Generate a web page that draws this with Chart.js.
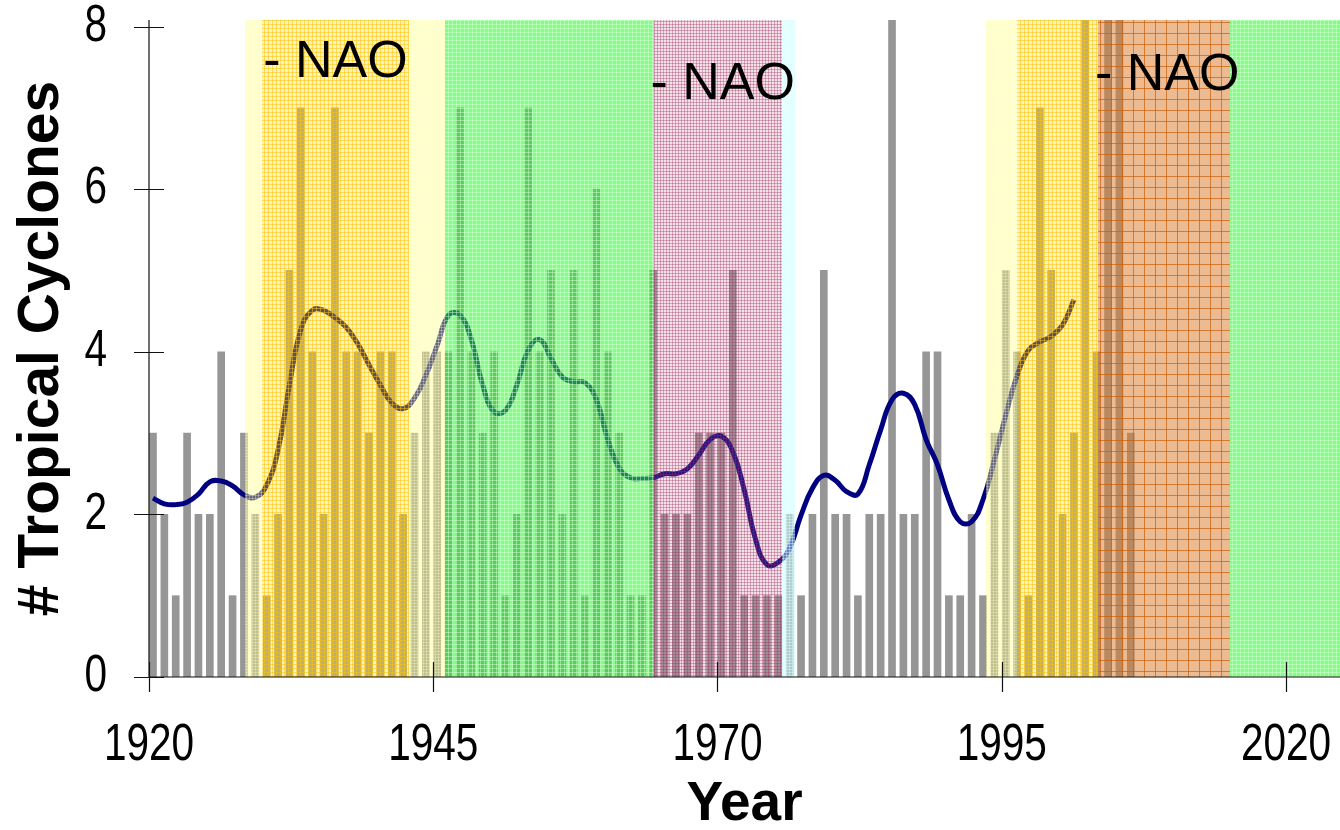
<!DOCTYPE html>
<html>
<head>
<meta charset="utf-8">
<script src="https://cdn.jsdelivr.net/npm/chart.js@4.4.0/dist/chart.umd.min.js"></script>
<style>
  html, body { margin: 0; padding: 0; background: #fff; }
  #wrap { width: 1340px; height: 830px; }
</style>
</head>
<body>
<div id="wrap"><canvas id="tcCanvas" width="1340" height="830"></canvas></div>
<script>
// yearly counts of tropical cyclones
const years = [
  1920, 1921, 1922, 1923, 1924, 1925, 1926, 1927, 1928, 1929,
  1930, 1931, 1932, 1933, 1934, 1935, 1936, 1937, 1938, 1939,
  1940, 1941, 1942, 1943, 1944, 1945, 1946, 1947, 1948, 1949,
  1950, 1951, 1952, 1953, 1954, 1955, 1956, 1957, 1958, 1959,
  1960, 1961, 1962, 1963, 1964, 1965, 1966, 1967, 1968, 1969,
  1970, 1971, 1972, 1973, 1974, 1975, 1976, 1977, 1978, 1979,
  1980, 1981, 1982, 1983, 1984, 1985, 1986, 1987, 1988, 1989,
  1990, 1991, 1992, 1993, 1994, 1995, 1996, 1997, 1998, 1999,
  2000, 2001, 2002, 2003, 2004, 2005, 2006
];
const counts = [
  3, 2, 1, 3, 2, 2, 4, 1, 3, 2,
  1, 2, 5, 7, 4, 2, 7, 4, 4, 3,
  4, 4, 2, 3, 4, 4, 4, 7, 4, 3,
  4, 1, 2, 7, 4, 5, 2, 5, 1, 6,
  4, 3, 1, 1, 5, 2, 2, 2, 3, 3,
  3, 5, 1, 1, 1, 1, 2, 1, 2, 5,
  2, 2, 1, 2, 2, 9, 2, 2, 4, 4,
  1, 1, 2, 1, 3, 5, 4, 1, 7, 5,
  2, 3, 9, 4, 9, 9, 3
];
// smoothed running mean, 1920-2001
const smoothed = [
  2.20, 2.13, 2.12, 2.15, 2.25, 2.40, 2.41, 2.35, 2.24, 2.21,
  2.36, 2.79, 3.59, 4.27, 4.51, 4.51, 4.42, 4.30, 4.10, 3.84,
  3.59, 3.37, 3.30, 3.43, 3.71, 4.08, 4.45, 4.45, 4.15, 3.59,
  3.26, 3.28, 3.59, 4.02, 4.15, 3.92, 3.69, 3.63, 3.62, 3.41,
  2.92, 2.57, 2.45, 2.44, 2.45, 2.50, 2.50, 2.56, 2.73, 2.92,
  2.96, 2.77, 2.30, 1.69, 1.38, 1.41, 1.59, 1.99, 2.32, 2.48,
  2.42, 2.28, 2.25, 2.61, 3.04, 3.41, 3.49, 3.35, 2.92, 2.61,
  2.18, 1.91, 1.91, 2.18, 2.67, 3.22, 3.71, 4.02, 4.12, 4.19,
  4.33, 4.64
];
const tickYears = [1920, 1945, 1970, 1995, 2020];
const tickCounts = [0, 2, 4, 6, 8];

// NAO phase periods shaded over the series
const bandFrom = [1928.44, 1929.9, 1942.9, 1946.0, 1964.4, 1975.7, 1993.6, 1996.3, 2003.5, 2015.1];
const bandTo   = [1929.9, 1942.9, 1946.0, 1964.4, 1975.7, 1976.8, 1996.3, 2003.5, 2015.1, 2030];
const bandKind = ['yellow', 'gold', 'yellow', 'green', 'pink', 'cyan', 'yellow', 'gold', 'orange', 'green'];

const naoText = '- NAO';
const naoAt = [[1930.05, 7.55], [1964.1, 7.28], [2003.2, 7.4]];

const sans = "'Liberation Sans', Arial, sans-serif";
const barShift = 0.35;

const canvas = document.getElementById('tcCanvas');
const ctx = canvas.getContext('2d');

function makePattern(base, line, step) {
  const c = document.createElement('canvas');
  c.width = step;
  c.height = step;
  const g = c.getContext('2d');
  g.fillStyle = base;
  g.fillRect(0, 0, step, step);
  g.fillStyle = line;
  g.fillRect(0, 0, step, 1);
  g.fillRect(0, 0, 1, step);
  return ctx.createPattern(c, 'repeat');
}

const bandFill = {
  yellow: makePattern('rgba(255,255,130,0.40)', 'rgba(255,255,210,0.30)', 3),
  gold:   makePattern('rgba(255,215,80,0.36)', 'rgba(250,195,0,0.50)', 4),
  green:  makePattern('rgba(40,250,40,0.56)', 'rgba(220,255,220,0.45)', 4),
  pink:   makePattern('rgba(200,110,150,0.20)', 'rgba(160,40,90,0.34)', 3),
  cyan:   makePattern('rgba(195,255,255,0.50)', 'rgba(235,255,255,0.40)', 3),
  orange: makePattern('rgba(218,125,45,0.52)', 'rgba(200,95,10,0.70)', 11)
};

// tick label drawn slightly condensed, like a narrow face
function narrowText(c, text, px, py, align) {
  c.save();
  c.translate(px, py);
  c.scale(0.78, 1);
  c.textAlign = align;
  c.textBaseline = 'middle';
  c.fillText(text, 0, 0);
  c.restore();
}

const bandsPlugin = {
  id: 'naoBands',
  afterDatasetsDraw(chart) {
    const {ctx, chartArea: area, scales: {x, y}} = chart;
    ctx.save();
    ctx.beginPath();
    ctx.rect(area.left, area.top, area.right - area.left, area.bottom - area.top);
    ctx.clip();
    bandFrom.forEach((from, i) => {
      const x0 = Math.round(x.getPixelForValue(from));
      const x1 = Math.round(x.getPixelForValue(bandTo[i]));
      ctx.fillStyle = bandFill[bandKind[i]];
      ctx.fillRect(x0, area.top, x1 - x0, area.bottom - area.top);
    });
    ctx.restore();

    ctx.save();
    ctx.fillStyle = '#000';
    ctx.font = '52px ' + sans;
    ctx.textAlign = 'left';
    ctx.textBaseline = 'middle';
    naoAt.forEach(([yr, lvl]) => {
      ctx.fillText(naoText, x.getPixelForValue(yr), y.getPixelForValue(lvl));
    });
    ctx.restore();
  },
  afterDraw(chart) {
    // axis lines with tick marks crossing them, then the tick labels
    const {ctx, chartArea: area, scales: {x, y}} = chart;
    ctx.save();
    ctx.strokeStyle = '#111';
    ctx.lineWidth = 1.2;
    ctx.beginPath();
    ctx.moveTo(area.left, area.top);
    ctx.lineTo(area.left, area.bottom);
    ctx.lineTo(area.right, area.bottom);
    tickCounts.forEach(v => {
      const py = Math.round(y.getPixelForValue(v)) + 0.5;
      ctx.moveTo(area.left - 15, py);
      ctx.lineTo(area.left + 15, py);
    });
    tickYears.forEach(v => {
      const px = Math.round(x.getPixelForValue(v)) + 0.5;
      ctx.moveTo(px, area.bottom - 15);
      ctx.lineTo(px, area.bottom + 15);
    });
    ctx.stroke();

    ctx.fillStyle = '#000';
    ctx.font = '52px ' + sans;
    tickCounts.forEach(v => narrowText(ctx, String(v), area.left - 42, y.getPixelForValue(v), 'right'));
    tickYears.forEach(v => narrowText(ctx, String(v), x.getPixelForValue(v), area.bottom + 69, 'center'));
    ctx.restore();
  }
};

function pinScale(size) {
  return s => {
    if (s.isHorizontal()) s.height = size; else s.width = size;
    s.paddingTop = s.paddingBottom = s.paddingLeft = s.paddingRight = 0;
  };
}

new Chart(ctx, {
  type: 'bar',
  data: {
    datasets: [
      {
        type: 'line',
        data: smoothed.map((v, i) => ({x: years[i] + barShift, y: v})),
        borderColor: '#000080',
        borderWidth: 5,
        pointRadius: 0,
        tension: 0.45,
        order: 0
      },
      {
        type: 'bar',
        data: counts.map((v, i) => ({x: years[i] + barShift, y: v})),
        backgroundColor: '#969696',
        barThickness: 7,
        order: 1
      }
    ]
  },
  options: {
    responsive: false,
    animation: false,
    layout: {padding: {top: 20, right: 0, bottom: 0, left: 0}},
    plugins: {legend: {display: false}, tooltip: {enabled: false}},
    scales: {
      x: {
        type: 'linear',
        min: 1920,
        max: 2024.75,
        offset: false,
        afterBuildTicks: s => { s.ticks = tickYears.map(v => ({value: v})); },
        afterFit: pinScale(153),
        grid: {display: false, drawTicks: false},
        border: {display: false},
        ticks: {display: false},
        title: {
          display: true,
          text: 'Year',
          color: '#000',
          font: {family: sans, size: 55, weight: 'bold', lineHeight: 1},
          padding: {top: 0, bottom: -2}
        }
      },
      y: {
        min: 0,
        max: 8.08,
        afterBuildTicks: s => { s.ticks = tickCounts.map(v => ({value: v})); },
        afterFit: pinScale(149),
        grid: {display: false, drawTicks: false},
        border: {display: false},
        ticks: {display: false},
        title: {
          display: true,
          text: '# Tropical Cyclones',
          color: '#000',
          font: {family: sans, size: 57, weight: 'bold', lineHeight: 1},
          padding: {top: 14, bottom: 0}
        }
      }
    }
  },
  plugins: [bandsPlugin]
});
</script>
</body>
</html>
